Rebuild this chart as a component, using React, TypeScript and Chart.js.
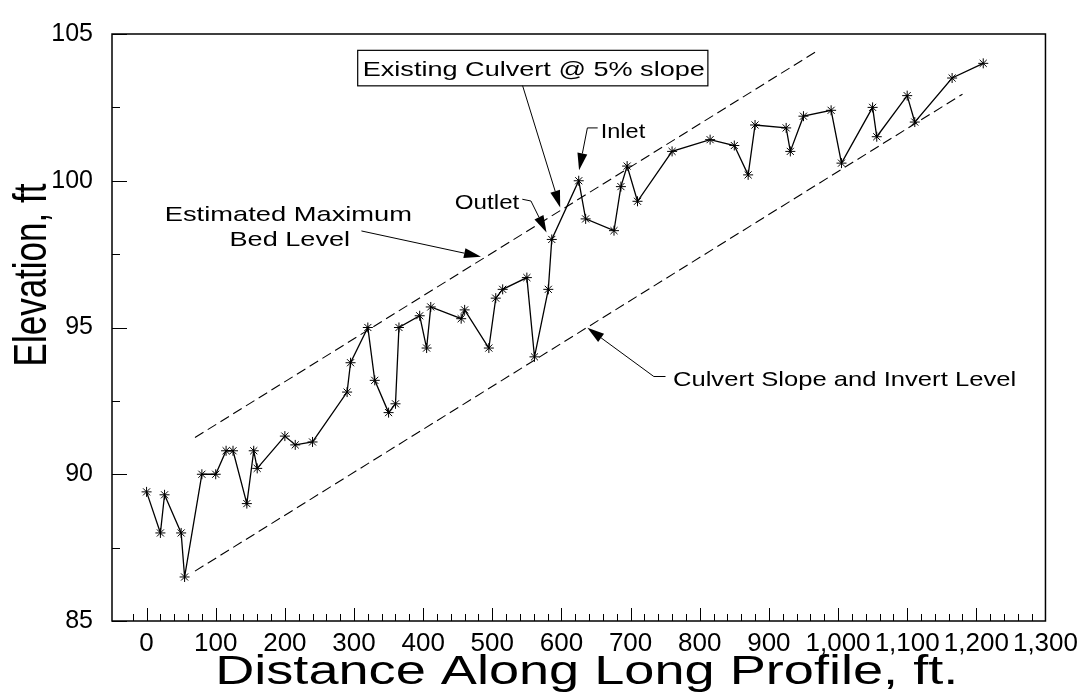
import React, { useEffect, useRef } from 'react';
import { Chart, registerables } from 'chart.js';

Chart.register(...registerables);

// ---- data ----
const distances = [0, 20, 26, 50, 55, 80, 100, 115, 125, 145, 155, 160, 200, 215, 240, 290, 295, 320, 330, 350, 360, 365, 395, 405, 411, 455, 460, 495, 505, 515, 550, 561, 581, 586, 625, 635, 676, 686, 695, 710, 760, 815, 850, 870, 880, 925, 931, 950, 990, 1005, 1050, 1056, 1100, 1111, 1165, 1210];
const elevations = [89.4, 88.0, 89.3, 88.0, 86.5, 90.0, 90.0, 90.8, 90.8, 89.0, 90.8, 90.2, 91.3, 91.0, 91.1, 92.8, 93.8, 95.0, 93.2, 92.1, 92.4, 95.0, 95.4, 94.3, 95.7, 95.3, 95.6, 94.3, 96.0, 96.3, 96.7, 94.0, 96.3, 98.0, 100.0, 98.7, 98.3, 99.8, 100.5, 99.3, 101.0, 101.4, 101.2, 100.2, 101.9, 101.8, 101.0, 102.2, 102.4, 100.6, 102.5, 101.5, 102.9, 102.0, 103.5, 104.0];

const maxBedX = [70, 971];
const maxBedY = [91.25, 104.44];
const invertX = [70, 1180];
const invertY = [86.7, 102.95];

const X_MIN = -50;
const X_MAX = 1300;
const X_MINOR = 20;
const X_MAJOR = 100;
const Y_MIN = 85;
const Y_MAX = 105;
const Y_MINOR = 2.5;
const Y_MAJOR = 5;

const xTitle = 'Distance Along Long Profile, ft.';
const yTitle = 'Elevation, ft';

// callout texts, anchored in data units
const calloutTexts = [
  { text: 'Existing Culvert @ 5% slope', x: 560, y: 103.83, align: 'center', sx: 1.29, boxed: true },
  { text: 'Outlet', x: 539, y: 99.28, align: 'right', sx: 1.15, boxed: false },
  { text: 'Inlet', x: 656.8, y: 101.7, align: 'left', sx: 1.12, boxed: false },
  { text: 'Estimated Maximum', x: 205.1, y: 98.87, align: 'center', sx: 1.3, boxed: false },
  { text: 'Bed Level', x: 207.1, y: 98.04, align: 'center', sx: 1.29, boxed: false },
  { text: 'Culvert Slope and Invert Level', x: 761.2, y: 93.25, align: 'left', sx: 1.22, boxed: false },
];

// callout leader lines (last point carries the arrowhead)
const calloutArrows = [
  [[543.8, 103.24], [598.2, 99.09]],
  [[543.4, 99.37], [555.9, 99.31], [578.4, 98.24]],
  [[652.4, 101.8], [637.5, 101.8], [625.5, 100.36]],
  [[310.7, 98.29], [483.7, 97.41]],
  [[750.5, 93.33], [733.6, 93.33], [637.5, 94.99]],
];

const FONT = "'Liberation Sans', Arial, Helvetica, sans-serif";

const overlayPlugin = {
  id: 'overlay',
  afterDraw(chart: any) {
    const { ctx, chartArea } = chart;
    const xs = chart.scales.x;
    const ys = chart.scales.y;
    const px = (v: number) => xs.getPixelForValue(v);
    const py = (v: number) => ys.getPixelForValue(v);
    const { left, right, top, bottom } = chartArea;

    ctx.save();
    ctx.strokeStyle = '#000';
    ctx.fillStyle = '#000';

    // frame
    ctx.lineWidth = 1.5;
    ctx.strokeRect(left, top, right - left, bottom - top);

    // inward tick marks
    ctx.lineWidth = 1;
    ctx.beginPath();
    xs.ticks.forEach((t: any) => {
      const v = t.value;
      if (Math.abs(v % X_MINOR) > 1e-6) return;
      const x = Math.round(px(v)) + 0.5;
      const len = Math.abs(v % X_MAJOR) < 1e-6 ? 13 : 7;
      ctx.moveTo(x, bottom);
      ctx.lineTo(x, bottom - len);
    });
    ys.ticks.forEach((t: any) => {
      const v = t.value;
      const y = Math.round(py(v)) + 0.5;
      const len = Math.abs(v % Y_MAJOR) < 1e-6 ? 15 : 8;
      ctx.moveTo(left, y);
      ctx.lineTo(left + len, y);
    });
    ctx.stroke();

    // leader lines + arrowheads
    ctx.lineWidth = 1;
    calloutArrows.forEach((pts) => {
      const p = pts.map(([a, b]) => [px(a), py(b)]);
      const [tx, ty] = p[p.length - 1];
      const [qx, qy] = p[p.length - 2];
      const ang = Math.atan2(ty - qy, tx - qx);
      const L = 17;
      const W = 5;
      const bx = tx - L * Math.cos(ang);
      const by = ty - L * Math.sin(ang);
      ctx.beginPath();
      ctx.moveTo(p[0][0], p[0][1]);
      for (let i = 1; i < p.length - 1; i++) ctx.lineTo(p[i][0], p[i][1]);
      ctx.lineTo(bx, by);
      ctx.stroke();
      ctx.beginPath();
      ctx.moveTo(tx, ty);
      ctx.lineTo(bx + W * Math.sin(ang), by - W * Math.cos(ang));
      ctx.lineTo(bx - W * Math.sin(ang), by + W * Math.cos(ang));
      ctx.closePath();
      ctx.fill();
    });

    // callout texts
    const fs = 21;
    ctx.font = `${fs}px ${FONT}`;
    ctx.textBaseline = 'alphabetic';
    calloutTexts.forEach((c) => {
      const cx = px(c.x);
      const cy = py(c.y) + 0.358 * fs;
      const w = ctx.measureText(c.text).width * c.sx;
      ctx.save();
      ctx.translate(cx, cy);
      ctx.scale(c.sx, 1);
      ctx.textAlign = c.align as CanvasTextAlign;
      ctx.fillText(c.text, 0, 0);
      ctx.restore();
      if (c.boxed) {
        const x0 = c.align === 'center' ? cx - w / 2 : c.align === 'right' ? cx - w : cx;
        const midY = py(c.y);
        ctx.lineWidth = 1.2;
        ctx.strokeRect(x0 - 5, midY - 18, w + 8, 35.5);
      }
    });

    // axis titles
    const xfs = 41;
    ctx.font = `${xfs}px ${FONT}`;
    ctx.textAlign = 'center';
    ctx.save();
    ctx.translate((left + right) / 2 + 8, 669 + 0.358 * xfs);
    ctx.scale(1.32, 1);
    ctx.fillText(xTitle, 0, 0);
    ctx.restore();

    const yfs = 35;
    ctx.font = `${yfs}px ${FONT}`;
    ctx.save();
    ctx.translate(30 + 0.358 * yfs * 1.3, 275);
    ctx.scale(1.3, 1);
    ctx.rotate(-Math.PI / 2);
    ctx.fillText(yTitle, 0, 0);
    ctx.restore();

    ctx.restore();
  },
};

export default function App() {
  const ref = useRef<HTMLCanvasElement | null>(null);

  useEffect(() => {
    document.body.style.margin = '0';
    const canvas = ref.current;
    if (!canvas) return;
    const chart = new Chart(canvas, {
      type: 'line',
      data: {
        datasets: [
          {
            label: 'Bed profile',
            data: distances.map((d, i) => ({ x: d, y: elevations[i] })),
            borderColor: '#000',
            backgroundColor: '#000',
            borderWidth: 1.3,
            pointStyle: 'star',
            pointRadius: 5,
            pointBorderWidth: 1,
            pointBorderColor: '#000',
            tension: 0,
          },
          {
            label: 'Estimated Maximum Bed Level',
            data: maxBedX.map((d, i) => ({ x: d, y: maxBedY[i] })),
            borderColor: '#000',
            borderWidth: 1.1,
            borderDash: [10, 5],
            pointRadius: 0,
          },
          {
            label: 'Culvert Slope and Invert Level',
            data: invertX.map((d, i) => ({ x: d, y: invertY[i] })),
            borderColor: '#000',
            borderWidth: 1.1,
            borderDash: [10, 5],
            pointRadius: 0,
          },
        ],
      },
      options: {
        responsive: false,
        animation: false,
        devicePixelRatio: 1,
        layout: { padding: { top: 19, right: 37, left: 0, bottom: 0 } },
        plugins: { legend: { display: false }, tooltip: { enabled: false } },
        scales: {
          x: {
            type: 'linear',
            min: X_MIN,
            max: X_MAX,
            grid: { display: false, drawTicks: false },
            border: { display: false },
            ticks: {
              stepSize: X_MINOR,
              autoSkip: false,
              maxRotation: 0,
              minRotation: 0,
              padding: 7,
              color: '#000',
              font: { family: FONT, size: 26 },
              callback: (v: any) => (Math.abs(Number(v) % X_MAJOR) < 1e-6 ? Number(v).toLocaleString('en-US') : ''),
            },
            afterFit: (s: any) => {
              s.height = 75;
            },
          },
          y: {
            type: 'linear',
            min: Y_MIN,
            max: Y_MAX,
            grid: { display: false, drawTicks: false },
            border: { display: false },
            ticks: {
              stepSize: Y_MINOR,
              padding: 19,
              color: '#000',
              font: { family: FONT, size: 25 },
              callback: (v: any) => (Math.abs(Number(v) % Y_MAJOR) < 1e-6 ? String(v) : ''),
            },
            afterFit: (s: any) => {
              s.width = 112;
            },
          },
        },
      },
      plugins: [overlayPlugin],
    });
    return () => chart.destroy();
  }, []);

  return (
    <div style={{ position: 'fixed', left: 0, top: 0, width: 1085, height: 696, background: '#fff' }}>
      <canvas ref={ref} width={1085} height={696} style={{ width: 1085, height: 696, display: 'block' }} />
    </div>
  );
}
